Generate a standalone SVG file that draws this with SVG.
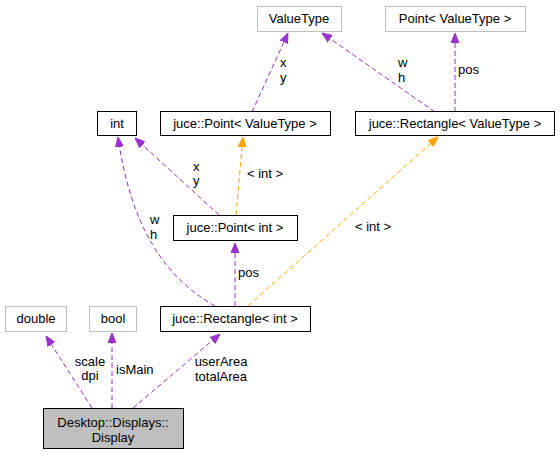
<svg xmlns="http://www.w3.org/2000/svg" width="560" height="456" viewBox="0 0 560 456">
<defs>
<style>
text{font-family:"Liberation Sans",Arial,sans-serif;font-size:13px;fill:#000}
.n{fill:#fff;stroke:#000;stroke-width:1}
.g{fill:#fff;stroke:#bfbfbf;stroke-width:1}
.e{fill:none;stroke:#9a32cd;stroke-width:1;stroke-dasharray:5,3}
.o{fill:none;stroke:#ffa500;stroke-width:1;stroke-dasharray:5,3}
.m{text-anchor:middle}
</style>
<marker id="ap" viewBox="0 0 10 10" refX="10" refY="5" markerWidth="10" markerHeight="10" markerUnits="userSpaceOnUse" orient="auto"><path d="M0,1 L10,5 L0,9 z" fill="#9a32cd" stroke="#9a32cd"/></marker>
<marker id="ao" viewBox="0 0 10 10" refX="10" refY="5" markerWidth="10" markerHeight="10" markerUnits="userSpaceOnUse" orient="auto"><path d="M0,1 L10,5 L0,9 z" fill="#ffa500" stroke="#ffa500"/></marker>
</defs>
<rect width="560" height="456" fill="#fff"/>
<g id="connectors">
<path class="e" d="M92,408 L46,336" marker-end="url(#ap)"/>
<path class="e" d="M112,408 L112,333" marker-end="url(#ap)"/>
<path class="e" d="M133,408 L220,334" marker-end="url(#ap)"/>
<path class="e" d="M215,306 C160,275 130,220 118,137" marker-end="url(#ap)"/>
<path class="e" d="M235,306 L235,243" marker-end="url(#ap)"/>
<path class="o" d="M248,306 L438,137" marker-end="url(#ao)"/>
<path class="e" d="M219,215 L135,138" marker-end="url(#ap)"/>
<path class="o" d="M236,215 L243,137" marker-end="url(#ao)"/>
<path class="e" d="M252,112 L288,33" marker-end="url(#ap)"/>
<path class="e" d="M435,112 L322,33" marker-end="url(#ap)"/>
<path class="e" d="M455,112 L455,33" marker-end="url(#ap)"/>
<text class="m" x="90" y="366">scale</text>
<text class="m" x="90" y="380">dpi</text>
<text x="116" y="374">isMain</text>
<text class="m" x="221" y="366">userArea</text>
<text class="m" x="221" y="381">totalArea</text>
<text x="150" y="224">w</text>
<text x="150" y="239">h</text>
<text x="238" y="277">pos</text>
<text class="m" x="373" y="231">&lt; int &gt;</text>
<text x="193" y="171">x</text>
<text x="193" y="185">y</text>
<text x="247" y="178">&lt; int &gt;</text>
<text x="280" y="67">x</text>
<text x="280" y="82">y</text>
<text x="398" y="67">w</text>
<text x="398" y="82">h</text>
<text x="458" y="74">pos</text>
</g>
<g id="display"><rect x="43.5" y="408.5" width="140" height="40" fill="#bfbfbf" stroke="#000"/><text class="m" x="113" y="427">Desktop::Displays::</text><text class="m" x="113" y="442">Display</text></g>
<g id="double"><rect class="g" x="5.5" y="306.5" width="61" height="25"/><text class="m" x="36" y="323">double</text></g>
<g id="bool"><rect class="g" x="89.5" y="306.5" width="47" height="25"/><text class="m" x="113" y="323">bool</text></g>
<g id="rect_int"><rect class="n" x="160.5" y="306.5" width="150" height="25"/><text class="m" x="235" y="323">juce::Rectangle&lt; int &gt;</text></g>
<g id="point_int"><rect class="n" x="173.5" y="215.5" width="124" height="25"/><text class="m" x="235" y="232">juce::Point&lt; int &gt;</text></g>
<g id="int"><rect class="n" x="97.5" y="111.5" width="39" height="24"/><text class="m" x="117" y="128">int</text></g>
<g id="point_vt"><rect class="n" x="160.5" y="111.5" width="170" height="24"/><text class="m" x="245" y="128">juce::Point&lt; ValueType &gt;</text></g>
<g id="rect_vt"><rect class="n" x="355.5" y="111.5" width="199" height="24"/><text class="m" x="455" y="128">juce::Rectangle&lt; ValueType &gt;</text></g>
<g id="valuetype"><rect class="g" x="257.5" y="6.5" width="84" height="25"/><text class="m" x="299" y="23">ValueType</text></g>
<g id="point_vt2"><rect class="g" x="385.5" y="6.5" width="140" height="25"/><text class="m" x="455" y="23">Point&lt; ValueType &gt;</text></g>
</svg>
